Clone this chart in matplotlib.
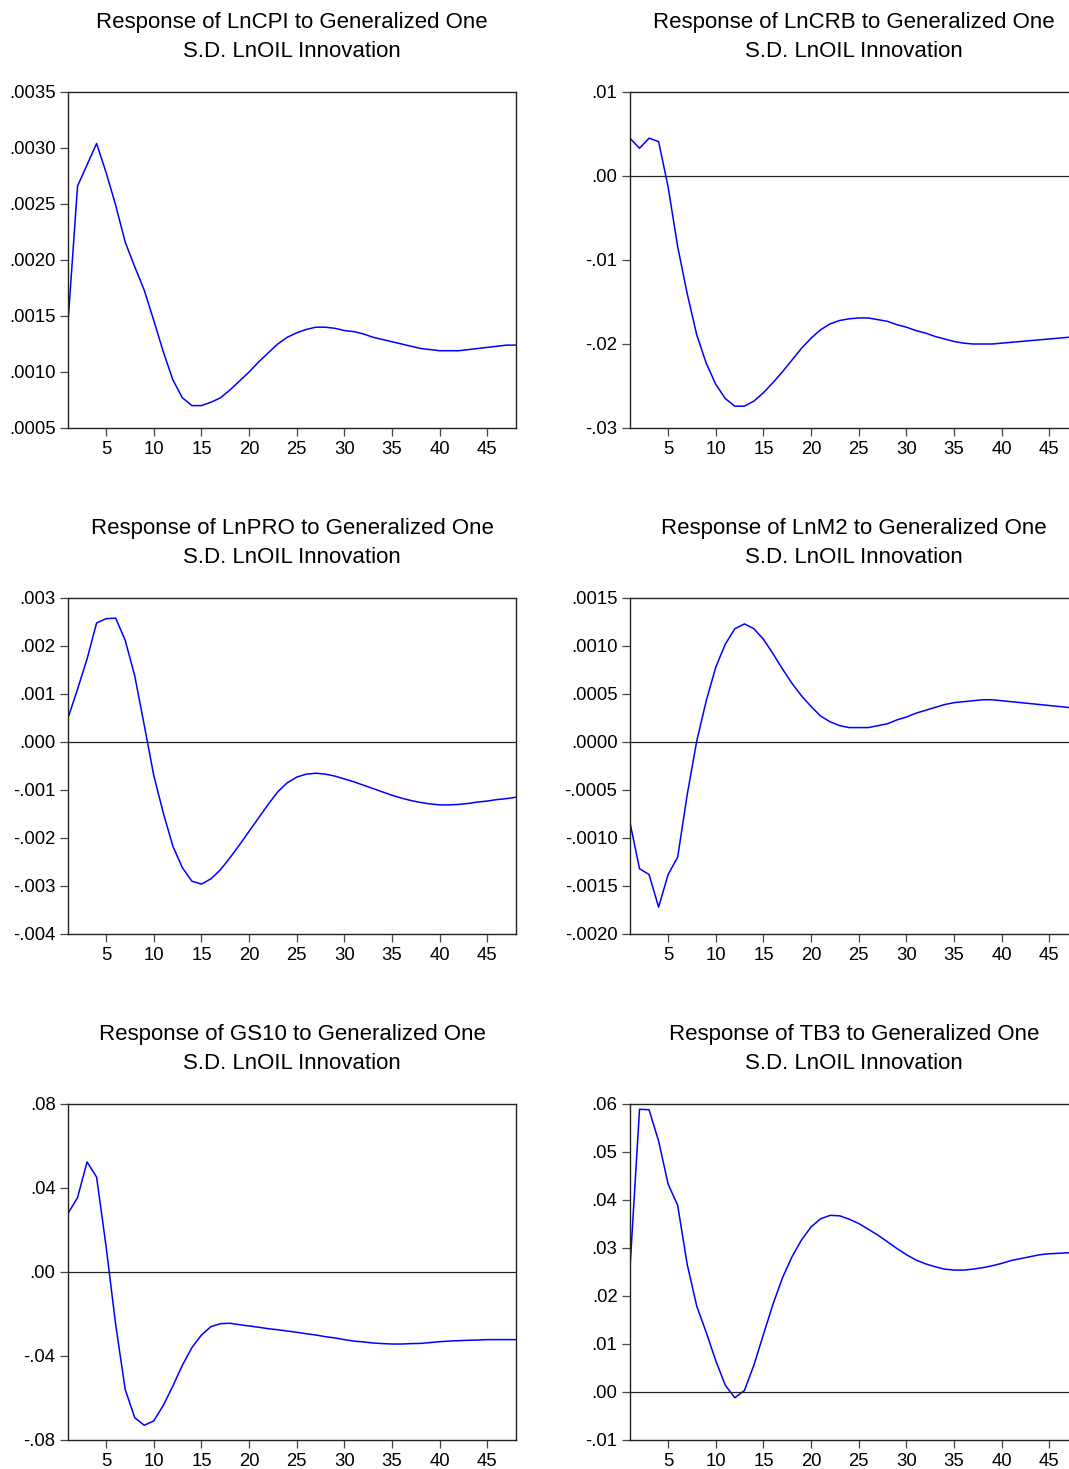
import numpy as np
import matplotlib
matplotlib.use("Agg")
import matplotlib.pyplot as plt

# impulse responses of each variable to a one S.D. LnOIL shock, periods 1..48
periods = np.arange(1, 49)

cpi = [0.00144, 0.00266, 0.00285, 0.00304, 0.00278, 0.00249, 0.00216, 0.00194, 0.00173, 0.00146,
       0.00118, 0.00093, 0.00077, 0.00070, 0.00070, 0.00073, 0.00077, 0.00084, 0.00092, 0.00100,
       0.00109, 0.00117, 0.00125, 0.00131, 0.00135, 0.00138, 0.00140, 0.00140, 0.00139, 0.00137,
       0.00136, 0.00134, 0.00131, 0.00129, 0.00127, 0.00125, 0.00123, 0.00121, 0.00120, 0.00119,
       0.00119, 0.00119, 0.00120, 0.00121, 0.00122, 0.00123, 0.00124, 0.00124]

crb = [0.0045, 0.0033, 0.0045, 0.0041, -0.0013, -0.0084, -0.0140, -0.0189, -0.0223, -0.0248,
       -0.0265, -0.0274, -0.0274, -0.0268, -0.0258, -0.0246, -0.0233, -0.0219, -0.0205, -0.0193,
       -0.0183, -0.0176, -0.0172, -0.0170, -0.0169, -0.0169, -0.0171, -0.0173, -0.0177, -0.0180,
       -0.0184, -0.0187, -0.0191, -0.0194, -0.0197, -0.0199, -0.0200, -0.0200, -0.0200, -0.0199,
       -0.0198, -0.0197, -0.0196, -0.0195, -0.0194, -0.0193, -0.0192, -0.0191]

pro = [0.00050, 0.00110, 0.00173, 0.00248, 0.00257, 0.00258, 0.00212, 0.00138, 0.00035, -0.00070,
       -0.00148, -0.00217, -0.00262, -0.00290, -0.00296, -0.00285, -0.00266, -0.00241, -0.00214, -0.00186,
       -0.00158, -0.00130, -0.00104, -0.00085, -0.00073, -0.00067, -0.00065, -0.00067, -0.00071, -0.00077,
       -0.00083, -0.00090, -0.00097, -0.00104, -0.00111, -0.00117, -0.00122, -0.00126, -0.00129, -0.00131,
       -0.00131, -0.00130, -0.00128, -0.00125, -0.00123, -0.00120, -0.00118, -0.00115]

m2 = [-0.00084, -0.00132, -0.00138, -0.00172, -0.00138, -0.00120, -0.00055, 0.00001, 0.00043, 0.00078,
      0.00102, 0.00118, 0.00123, 0.00118, 0.00107, 0.00092, 0.00076, 0.00061, 0.00048, 0.00037,
      0.00027, 0.00021, 0.00017, 0.00015, 0.00015, 0.00015, 0.00017, 0.00019, 0.00023, 0.00026,
      0.00030, 0.00033, 0.00036, 0.00039, 0.00041, 0.00042, 0.00043, 0.00044, 0.00044, 0.00043,
      0.00042, 0.00041, 0.00040, 0.00039, 0.00038, 0.00037, 0.00036, 0.00035]

gs10 = [0.0279, 0.0354, 0.0524, 0.0452, 0.0120, -0.0250, -0.0559, -0.0694, -0.0730, -0.0709,
        -0.0635, -0.0543, -0.0444, -0.0360, -0.0300, -0.0260, -0.0246, -0.0244, -0.0251, -0.0257,
        -0.0263, -0.0270, -0.0275, -0.0281, -0.0287, -0.0294, -0.0300, -0.0308, -0.0314, -0.0322,
        -0.0329, -0.0333, -0.0338, -0.0341, -0.0343, -0.0343, -0.0341, -0.0340, -0.0336, -0.0332,
        -0.0329, -0.0327, -0.0325, -0.0324, -0.0322, -0.0322, -0.0322, -0.0322]

tb3 = [0.0259, 0.0589, 0.0588, 0.0523, 0.0433, 0.0389, 0.0266, 0.0179, 0.0124, 0.0065,
       0.0014, -0.0012, 0.0003, 0.0056, 0.0120, 0.0183, 0.0238, 0.0282, 0.0317, 0.0344,
       0.0361, 0.0368, 0.0367, 0.0360, 0.0351, 0.0339, 0.0327, 0.0313, 0.0299, 0.0286,
       0.0275, 0.0267, 0.0261, 0.0256, 0.0254, 0.0254, 0.0256, 0.0259, 0.0263, 0.0268,
       0.0274, 0.0278, 0.0282, 0.0286, 0.0288, 0.0289, 0.0290, 0.0290]

names = ["LnCPI", "LnCRB", "LnPRO", "LnM2", "GS10", "TB3"]

cpi_ticks = [0.0005, 0.0010, 0.0015, 0.0020, 0.0025, 0.0030, 0.0035]
cpi_labels = [".0005", ".0010", ".0015", ".0020", ".0025", ".0030", ".0035"]
crb_ticks = [-0.03, -0.02, -0.01, 0.00, 0.01]
crb_labels = ["-.03", "-.02", "-.01", ".00", ".01"]
pro_ticks = [-0.004, -0.003, -0.002, -0.001, 0.000, 0.001, 0.002, 0.003]
pro_labels = ["-.004", "-.003", "-.002", "-.001", ".000", ".001", ".002", ".003"]
m2_ticks = [-0.0020, -0.0015, -0.0010, -0.0005, 0.0000, 0.0005, 0.0010, 0.0015]
m2_labels = ["-.0020", "-.0015", "-.0010", "-.0005", ".0000", ".0005", ".0010", ".0015"]
gs10_ticks = [-0.08, -0.04, 0.00, 0.04, 0.08]
gs10_labels = ["-.08", "-.04", ".00", ".04", ".08"]
tb3_ticks = [-0.01, 0.00, 0.01, 0.02, 0.03, 0.04, 0.05, 0.06]
tb3_labels = ["-.01", ".00", ".01", ".02", ".03", ".04", ".05", ".06"]

x_ticks = [5, 10, 15, 20, 25, 30, 35, 40, 45]

series = [cpi, crb, pro, m2, gs10, tb3]
yticks = [cpi_ticks, crb_ticks, pro_ticks, m2_ticks, gs10_ticks, tb3_ticks]
ylabels = [cpi_labels, crb_labels, pro_labels, m2_labels, gs10_labels, tb3_labels]
zero_line = [False, True, True, True, True, True]

plt.rcParams["font.family"] = ["Liberation Sans", "DejaVu Sans"]
plt.rcParams["font.size"] = 13

W, H = 1069, 1469
fig = plt.figure(figsize=(W / 100, H / 100), dpi=100)

# pixel boxes measured on the original (right column runs past the edge)
col_left = [68, 630]
col_width = [448, 448]
row_bottom = [428, 934, 1440]
ax_h = 336

for i in range(6):
    r, c = divmod(i, 2)
    ax = fig.add_axes([col_left[c] / W, (H - row_bottom[r]) / H,
                       col_width[c] / W, ax_h / H])
    ax.plot(periods, series[i], color="#0000ff", lw=1.1)
    if zero_line[i]:
        ax.axhline(0, color="#222222", lw=0.9)
    ax.set_xlim(1, 48)
    ax.set_ylim(yticks[i][0], yticks[i][-1])
    ax.set_xticks(x_ticks)
    ax.set_yticks(yticks[i])
    ax.set_yticklabels(ylabels[i])
    ax.tick_params(direction="out", length=6, width=0.9, color="#444444", pad=3, labelsize=13.3)
    for s in ax.spines.values():
        s.set_color("#222222")
        s.set_linewidth(1.0)
    ax.set_title("Response of %s to Generalized One\nS.D. LnOIL Innovation" % names[i],
                 fontsize=16, linespacing=1.49, pad=25)

fig.savefig("out.png", dpi=100)
